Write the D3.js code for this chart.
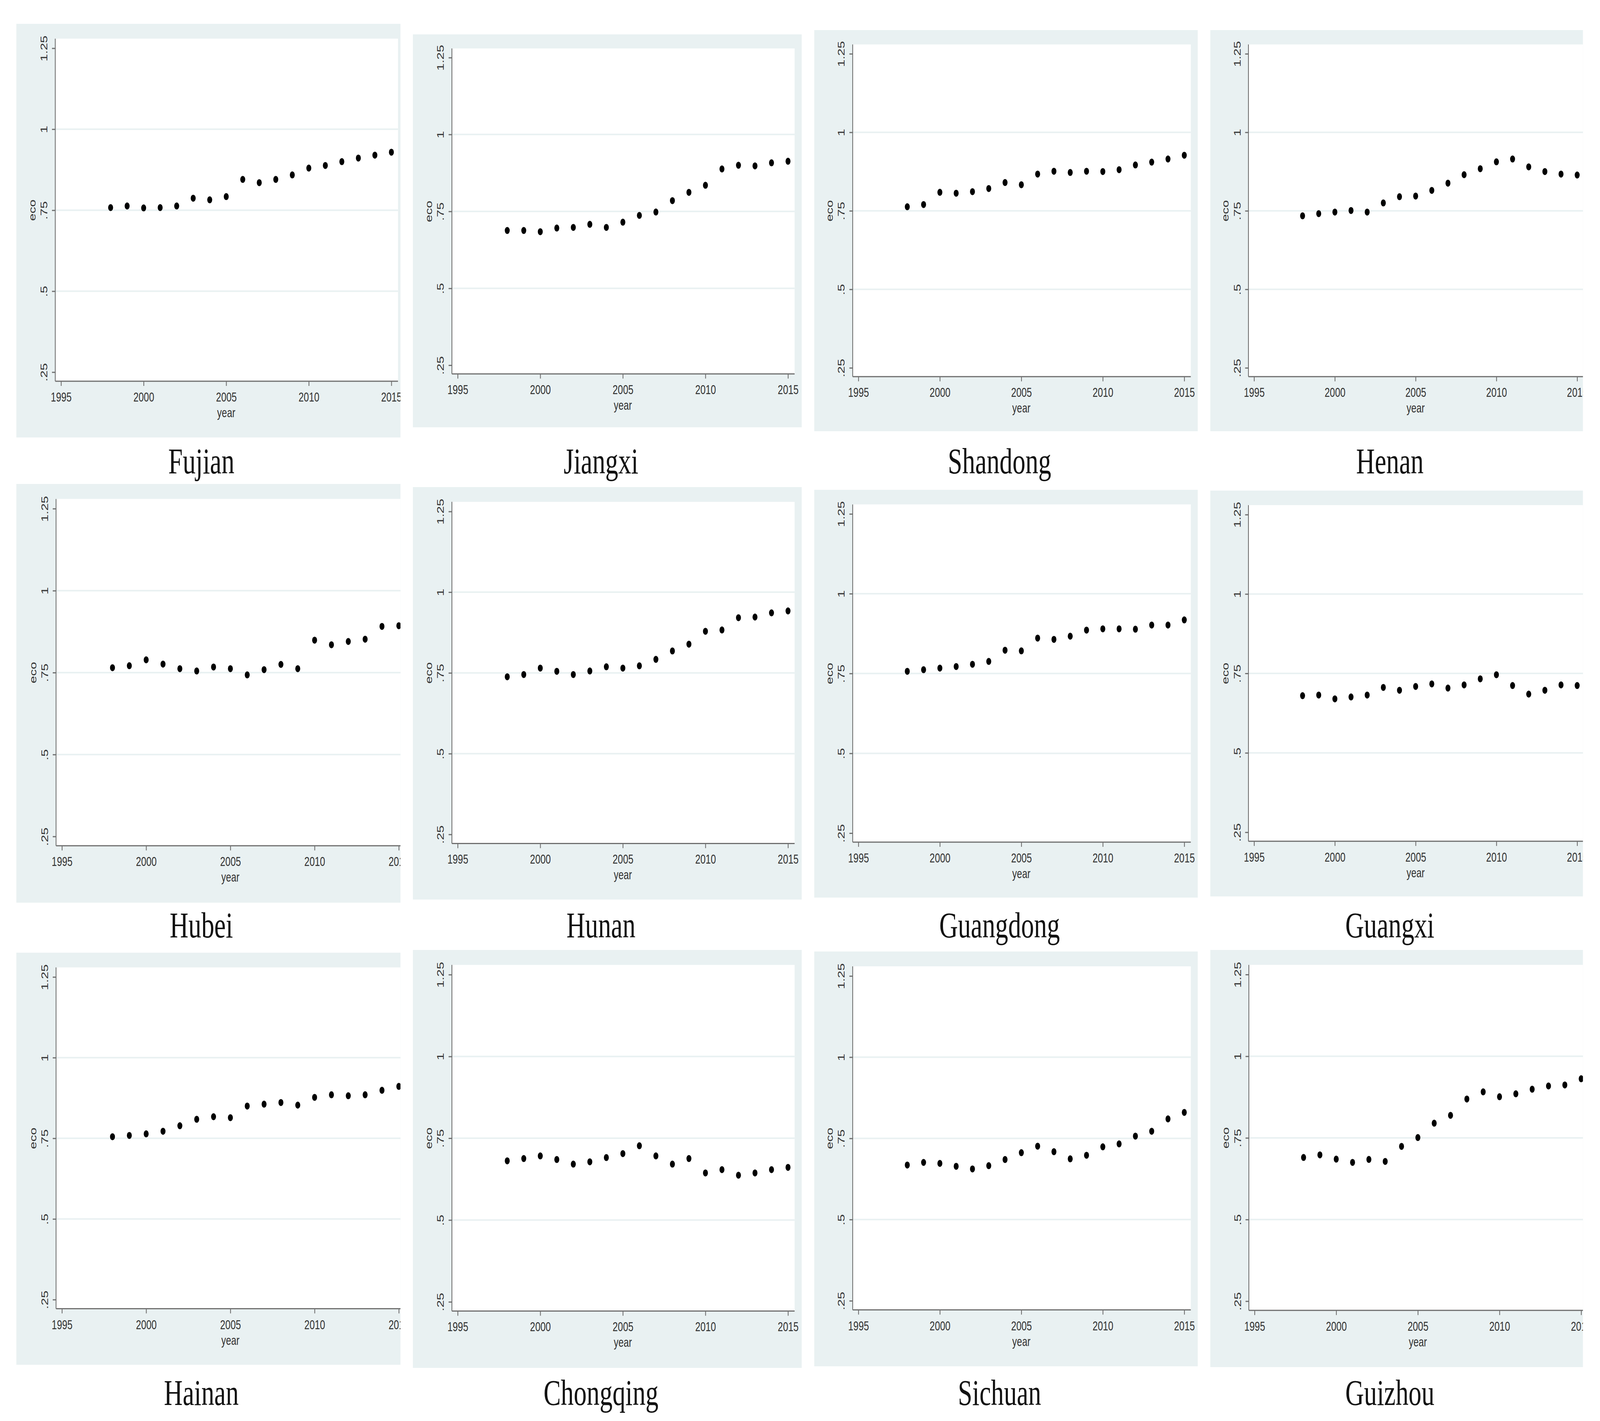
<!DOCTYPE html>
<html>
<head>
<meta charset="utf-8">
<script src="https://cdn.jsdelivr.net/npm/d3@7/dist/d3.min.js"></script>
<style>
  html, body { margin: 0; padding: 0; background: #fff; overflow: hidden; }
  #chart { display: block; width: 100vw; height: 100vh; }
  .axis text { font-family: "Liberation Sans", Arial, sans-serif; font-size: 34px; fill: #333; }
  .axis line, .axis path { stroke: #6f6f6f; stroke-width: 3px; }
  .axis-title { font-family: "Liberation Sans", Arial, sans-serif; font-size: 34px; fill: #333; }
  .panel-title { font-family: "Palatino Linotype", "Book Antiqua", "Liberation Serif", serif; font-size: 94px; fill: #111; }
</style>
</head>
<body>
<svg id="chart"></svg>
<script>
const years = [1998, 1999, 2000, 2001, 2002, 2003, 2004, 2005, 2006, 2007, 2008, 2009, 2010, 2011, 2012, 2013, 2014, 2015]
const yearTicks = [1995, 2000, 2005, 2010, 2015]
const ecoTicks = [0.25, 0.5, 0.75, 1, 1.25]
const gridTicks = [0.5, 0.75, 1]

const provinces = ["Fujian", "Jiangxi", "Shandong", "Henan", "Hubei", "Hunan", "Guangdong", "Guangxi", "Hainan", "Chongqing", "Sichuan", "Guizhou"]

const fujian    = [0.758, 0.763, 0.757, 0.758, 0.763, 0.787, 0.782, 0.792, 0.845, 0.835, 0.845, 0.859, 0.880, 0.888, 0.900, 0.911, 0.920, 0.929]
const jiangxi   = [0.688, 0.688, 0.684, 0.696, 0.698, 0.708, 0.698, 0.715, 0.737, 0.748, 0.785, 0.812, 0.835, 0.888, 0.900, 0.898, 0.908, 0.913]
const shandong  = [0.763, 0.770, 0.809, 0.806, 0.811, 0.821, 0.840, 0.833, 0.867, 0.876, 0.872, 0.876, 0.875, 0.881, 0.896, 0.905, 0.915, 0.927]
const henan     = [0.734, 0.741, 0.746, 0.751, 0.746, 0.775, 0.795, 0.797, 0.815, 0.838, 0.865, 0.884, 0.906, 0.915, 0.890, 0.875, 0.867, 0.864]
const hubei     = [0.765, 0.771, 0.789, 0.776, 0.762, 0.755, 0.767, 0.762, 0.743, 0.759, 0.775, 0.762, 0.849, 0.835, 0.845, 0.852, 0.891, 0.893]
const hunan     = [0.738, 0.745, 0.765, 0.755, 0.745, 0.756, 0.769, 0.765, 0.772, 0.792, 0.818, 0.839, 0.879, 0.883, 0.921, 0.923, 0.936, 0.942]
const guangdong = [0.757, 0.762, 0.767, 0.772, 0.779, 0.788, 0.823, 0.821, 0.861, 0.857, 0.867, 0.886, 0.890, 0.890, 0.889, 0.902, 0.902, 0.918]
const guangxi   = [0.680, 0.682, 0.670, 0.676, 0.682, 0.706, 0.697, 0.709, 0.717, 0.704, 0.714, 0.733, 0.746, 0.712, 0.685, 0.697, 0.714, 0.712]
const hainan    = [0.755, 0.759, 0.764, 0.772, 0.789, 0.809, 0.817, 0.814, 0.850, 0.856, 0.861, 0.853, 0.877, 0.885, 0.882, 0.885, 0.899, 0.911]
const chongqing = [0.681, 0.688, 0.696, 0.685, 0.671, 0.678, 0.691, 0.703, 0.727, 0.696, 0.671, 0.688, 0.644, 0.654, 0.637, 0.644, 0.654, 0.661]
const sichuan   = [0.668, 0.676, 0.673, 0.664, 0.656, 0.666, 0.685, 0.706, 0.726, 0.709, 0.687, 0.698, 0.724, 0.733, 0.757, 0.772, 0.810, 0.830]
const guizhou   = [0.690, 0.698, 0.685, 0.675, 0.684, 0.678, 0.724, 0.751, 0.795, 0.819, 0.869, 0.891, 0.876, 0.885, 0.899, 0.909, 0.912, 0.931]

const series = [fujian, jiangxi, shandong, henan, hubei, hunan, guangdong, guangxi, hainan, chongqing, sichuan, guizhou]

// pasted panel boxes (the outer columns are cut on the right)
const boxes = [
  {x: 59,   y: 61,   w: 1414, h: 1059, clip: 1397},
  {x: 1501, y: 88,   w: 1414, h: 1006, clip: 1414},
  {x: 2960, y: 77,   w: 1395, h: 1027, clip: 1395},
  {x: 4400, y: 77,   w: 1383, h: 1027, clip: 1355},
  {x: 59,   y: 1239, w: 1442, h: 1072, clip: 1397},
  {x: 1501, y: 1247, w: 1414, h: 1056, clip: 1414},
  {x: 2960, y: 1254, w: 1395, h: 1044, clip: 1395},
  {x: 4400, y: 1256, w: 1383, h: 1039, clip: 1355},
  {x: 59,   y: 2439, w: 1442, h: 1055, clip: 1397},
  {x: 1501, y: 2432, w: 1414, h: 1070, clip: 1414},
  {x: 2960, y: 2436, w: 1395, h: 1062, clip: 1395},
  {x: 4400, y: 2432, w: 1398, h: 1068, clip: 1355}
]
const titleX = [732, 2185, 3634, 5053]
const titleY = [1212, 2400, 3597]

const bg = "#e9f1f2"
const width = 5817
const height = 3638

// stretch to whatever window we get so the layout keeps the 5817x3638 grid
const svg = d3.select('#chart')
  .attr('viewBox', `0 0 ${width} ${height}`)
  .attr('preserveAspectRatio', 'none')
const defs = svg.append('defs')

const fmt = d => String(d).replace(/^0\./, '.')

provinces.forEach((name, i) => {
  const box = boxes[i]
  const values = series[i]

  defs.append('clipPath').attr('id', 'clip' + i)
    .append('rect').attr('width', box.clip).attr('height', box.h)

  const g = svg.append('g')
    .attr('transform', `translate(${box.x}, ${box.y})`)
    .append('g')
    .attr('clip-path', `url(#clip${i})`)

  const left = box.w * 0.1004
  const right = box.w * 0.9816
  const top = box.h * 0.0358
  const bottom = box.h * 0.864

  const x = d3.scaleLinear().domain([1995, 2015]).range([box.w * 0.1153, box.w * 0.9646])
  const y = d3.scaleLinear().domain([0.25, 1.25]).range([box.h * 0.842, box.h * 0.0591])

  g.append('rect').attr('width', box.w).attr('height', box.h).attr('fill', bg)
  g.append('rect')
    .attr('x', left).attr('y', top)
    .attr('width', right - left).attr('height', bottom - top)
    .attr('fill', '#fff')

  g.selectAll('.grid')
    .data(gridTicks)
    .enter()
    .append('line')
    .attr('class', 'grid')
    .attr('x1', left).attr('x2', right)
    .attr('y1', d => y(d)).attr('y2', d => y(d))
    .attr('stroke', bg)
    .attr('stroke-width', 4)

  const yAxis = g.append('g')
    .attr('class', 'axis')
    .attr('transform', `translate(${left}, 0)`)
    .call(d3.axisLeft(y).tickValues(ecoTicks).tickFormat(fmt).tickSize(12).tickSizeOuter(0))
  yAxis.select('.domain').attr('d', `M0,${top}V${bottom}`)
  yAxis.selectAll('.tick text')
    .attr('transform', 'rotate(-90)')
    .attr('x', 0)
    .attr('y', -29)
    .attr('dy', 0)
    .attr('text-anchor', 'middle')

  const xAxis = g.append('g')
    .attr('class', 'axis')
    .attr('transform', `translate(0, ${bottom})`)
    .call(d3.axisBottom(x).tickValues(yearTicks).tickFormat(d3.format('d')).tickSize(12).tickSizeOuter(0))
  xAxis.select('.domain').attr('d', `M${left},0H${right}`)
  xAxis.selectAll('.tick text').attr('y', 52).attr('dy', 0)

  g.append('text')
    .attr('class', 'axis-title')
    .attr('transform', `translate(${left - 72}, ${(y(0.25) + y(1.25)) / 2}) rotate(-90)`)
    .attr('text-anchor', 'middle')
    .text('eco')

  g.append('text')
    .attr('class', 'axis-title')
    .attr('x', x(2005))
    .attr('y', bottom + 92)
    .attr('text-anchor', 'middle')
    .text('year')

  g.selectAll('.dot')
    .data(values)
    .enter()
    .append('circle')
    .attr('class', 'dot')
    .attr('cx', (d, j) => x(years[j]))
    .attr('cy', d => y(d))
    .attr('r', 9)
    .attr('fill', '#000')

  svg.append('text')
    .attr('class', 'panel-title')
    .attr('x', titleX[i % 4])
    .attr('y', titleY[Math.floor(i / 4)])
    .attr('text-anchor', 'middle')
    .text(name)
})
</script>
</body>
</html>
